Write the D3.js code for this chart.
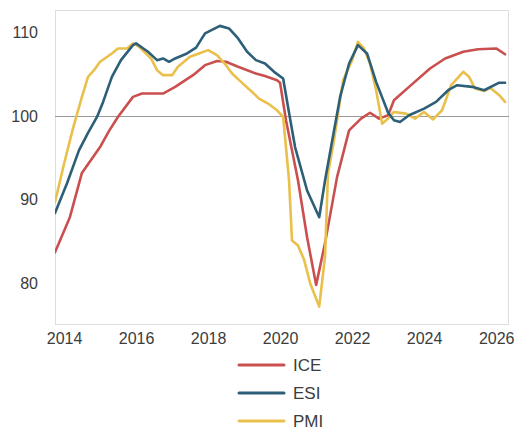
<!DOCTYPE html>
<html>
<head>
<meta charset="utf-8">
<script src="https://cdn.jsdelivr.net/npm/d3@7/dist/d3.min.js"></script>
<style>
  html, body { margin: 0; padding: 0; background: #fff; }
  svg { display: block; font-family: "Liberation Sans", Arial, sans-serif; }
</style>
</head>
<body>
<svg id="chart" width="515" height="432"></svg>
<script>
// ---- Data (month, value) ----
const iceData = [
  ["2013-10", 83.7], ["2014-03", 87.9], ["2014-07", 93.2], ["2015-01", 96.3],
  ["2015-04", 98.2], ["2015-07", 99.9], ["2015-12", 102.3], ["2016-03", 102.7],
  ["2016-10", 102.7], ["2017-02", 103.5], ["2017-08", 104.9], ["2017-12", 106.1],
  ["2018-04", 106.6], ["2018-07", 106.5], ["2018-11", 105.9], ["2019-05", 105.1],
  ["2019-08", 104.8], ["2019-12", 104.3], ["2020-01", 104.0], ["2020-03", 99.5],
  ["2020-07", 92.3], ["2020-10", 85.5], ["2021-01", 79.8], ["2021-04", 84.8],
  ["2021-08", 92.7], ["2021-12", 98.3], ["2022-04", 99.7], ["2022-07", 100.4],
  ["2022-10", 99.7], ["2023-01", 100.1], ["2023-03", 101.9], ["2023-08", 103.5],
  ["2024-03", 105.7], ["2024-08", 106.9], ["2025-02", 107.7], ["2025-07", 108.0],
  ["2026-01", 108.1], ["2026-04", 107.4]
];
const esiData = [
  ["2013-10", 88.4], ["2014-02", 92.0], ["2014-06", 95.9], ["2014-09", 98.0],
  ["2014-12", 99.9], ["2015-02", 101.7], ["2015-05", 104.7], ["2015-08", 106.7],
  ["2015-12", 108.5], ["2016-01", 108.7], ["2016-05", 107.7], ["2016-08", 106.7],
  ["2016-10", 106.9], ["2016-12", 106.5], ["2017-02", 106.9], ["2017-06", 107.5],
  ["2017-09", 108.2], ["2017-12", 109.9], ["2018-05", 110.8], ["2018-08", 110.5],
  ["2018-11", 109.3], ["2019-02", 107.7], ["2019-05", 106.7], ["2019-08", 106.3],
  ["2019-11", 105.3], ["2020-02", 104.5], ["2020-04", 100.4], ["2020-06", 96.3],
  ["2020-10", 91.1], ["2021-02", 87.9], ["2021-04", 92.3], ["2021-06", 96.3],
  ["2021-09", 102.3], ["2021-12", 106.3], ["2022-03", 108.5], ["2022-06", 107.5],
  ["2022-09", 104.1], ["2023-01", 100.4], ["2023-03", 99.5], ["2023-05", 99.3],
  ["2023-08", 100.1], ["2024-01", 100.9], ["2024-05", 101.7], ["2024-09", 103.1],
  ["2024-12", 103.7], ["2025-05", 103.5], ["2025-09", 103.1], ["2026-02", 104.0],
  ["2026-04", 104.0]
];
const pmiData = [
  ["2013-10", 89.7], ["2014-01", 94.3], ["2014-04", 98.5], ["2014-07", 102.3],
  ["2014-09", 104.7], ["2014-11", 105.5], ["2015-01", 106.5], ["2015-05", 107.5],
  ["2015-07", 108.1], ["2015-10", 108.1], ["2015-12", 108.7], ["2016-02", 108.3],
  ["2016-06", 106.9], ["2016-08", 105.5], ["2016-10", 104.9], ["2017-01", 104.9],
  ["2017-03", 105.9], ["2017-07", 107.1], ["2017-10", 107.5], ["2018-01", 107.9],
  ["2018-04", 107.3], ["2018-07", 106.1], ["2018-09", 105.1], ["2018-12", 104.1],
  ["2019-04", 102.8], ["2019-06", 102.1], ["2019-09", 101.5], ["2019-12", 100.7],
  ["2020-02", 99.9], ["2020-04", 92.3], ["2020-05", 85.1], ["2020-07", 84.5],
  ["2020-09", 82.8], ["2020-11", 80.0], ["2021-02", 77.2], ["2021-04", 83.2],
  ["2021-05", 93.1], ["2021-07", 97.1], ["2021-10", 104.3], ["2022-01", 106.7],
  ["2022-03", 108.9], ["2022-05", 108.1], ["2022-07", 106.3], ["2022-09", 103.1],
  ["2022-11", 99.1], ["2023-01", 99.7], ["2023-03", 100.5], ["2023-07", 100.3],
  ["2023-10", 99.7], ["2024-01", 100.5], ["2024-04", 99.6], ["2024-07", 100.7],
  ["2024-10", 103.7], ["2025-02", 105.3], ["2025-04", 104.7], ["2025-06", 103.3],
  ["2025-09", 103.0], ["2025-11", 103.4], ["2026-02", 102.5], ["2026-04", 101.7]
];
const seriesNames = ["ICE", "ESI", "PMI"];
const seriesColors = ["#c9504f", "#2e5f78", "#e9c04b"];
const yTicks = [80, 90, 100, 110];
const xTickYears = [2014, 2016, 2018, 2020, 2022, 2024, 2026];

// ---- Layout ----
const svg = d3.select("#chart");
const plotL = 55, plotR = 509, plotT = 10, plotB = 325;
const parse = d3.timeParse("%Y-%m");
const fontFam = "'Liberation Sans', Arial, sans-serif";
const textCol = "#3c3c3c";

const x = d3.scaleTime()
  .domain([new Date(2013, 9, 1), new Date(2026, 4, 11)])
  .range([plotL, plotR]);
const y = d3.scaleLinear().domain([75, 112.7]).range([plotB, plotT]);

// plot border
svg.append("rect")
  .attr("x", plotL + 0.5).attr("y", plotT + 0.5)
  .attr("width", plotR - plotL - 1).attr("height", plotB - plotT - 1)
  .attr("fill", "none").attr("stroke", "#dedede").attr("stroke-width", 1);

// reference line at 100
svg.append("line")
  .attr("x1", plotL).attr("x2", plotR)
  .attr("y1", Math.round(y(100)) + 0.5).attr("y2", Math.round(y(100)) + 0.5)
  .attr("stroke", "#9a9a9a").attr("stroke-width", 1.2);

// Y axis
const yAxis = d3.axisLeft(y).tickValues(yTicks).tickSize(0).tickPadding(17);
const gy = svg.append("g").attr("transform", `translate(${plotL},0)`).call(yAxis);
gy.select(".domain").remove();
gy.selectAll("text").attr("font-size", 16).attr("fill", textCol)
  .attr("font-family", fontFam);

// X axis
const xAxis = d3.axisBottom(x)
  .tickValues(xTickYears.map(yv => new Date(yv, 0, 1)))
  .tickFormat(d3.timeFormat("%Y")).tickSize(0).tickPadding(8);
const gx = svg.append("g").attr("transform", `translate(0,${plotB})`).call(xAxis);
gx.select(".domain").remove();
gx.selectAll("text").attr("font-size", 16).attr("fill", textCol)
  .attr("font-family", fontFam);

// clip
svg.append("clipPath").attr("id", "clip").append("rect")
  .attr("x", plotL).attr("y", plotT).attr("width", plotR - plotL).attr("height", plotB - plotT);

const line = d3.line()
  .x(d => x(parse(d[0])))
  .y(d => y(d[1]));

const allSeries = [iceData, esiData, pmiData];
const drawOrder = [0, 2, 1];
const gLines = svg.append("g").attr("clip-path", "url(#clip)");
drawOrder.forEach(i => {
  gLines.append("path")
    .datum(allSeries[i])
    .attr("fill", "none")
    .attr("stroke", seriesColors[i])
    .attr("stroke-width", 2.6)
    .attr("stroke-linejoin", "round")
    .attr("stroke-linecap", "round")
    .attr("d", line);
});

// Legend
const legend = svg.append("g");
seriesNames.forEach((name, i) => {
  const ly = 365 + i * 28;
  legend.append("line")
    .attr("x1", 239).attr("x2", 284)
    .attr("y1", ly).attr("y2", ly)
    .attr("stroke", seriesColors[i]).attr("stroke-width", 3)
    .attr("stroke-linecap", "round");
  legend.append("text")
    .attr("x", 293).attr("y", ly)
    .attr("dy", "0.36em")
    .attr("font-size", 17)
    .attr("font-family", fontFam)
    .attr("fill", textCol)
    .text(name);
});
</script>
</body>
</html>
